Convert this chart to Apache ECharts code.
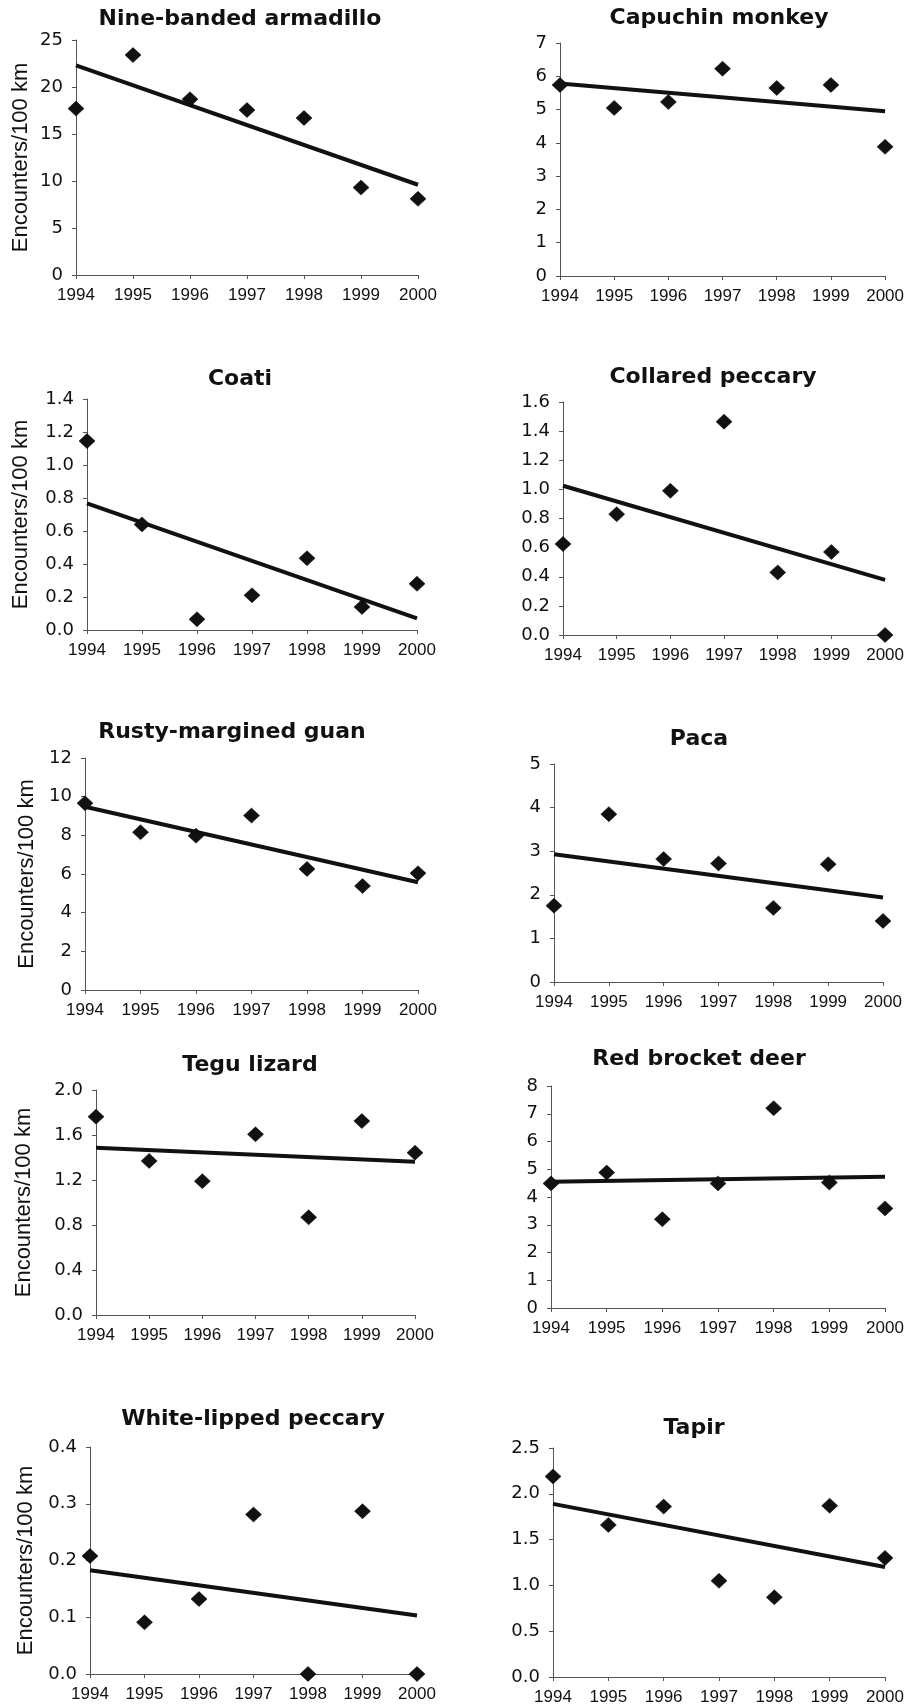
<!DOCTYPE html>
<html><head><meta charset="utf-8">
<script src="https://cdn.jsdelivr.net/npm/echarts/dist/echarts.min.js"></script>
<style>html,body{margin:0;padding:0;background:#fff}#c{width:907px;height:1708px}</style>
</head><body><div id="c"></div>
<script>
const years = [1994, 1995, 1996, 1997, 1998, 1999, 2000];
const titles = ['Nine-banded armadillo', 'Capuchin monkey', 'Coati', 'Collared peccary',
  'Rusty-margined guan', 'Paca', 'Tegu lizard', 'Red brocket deer', 'White-lipped peccary', 'Tapir'];
const yAxisName = 'Encounters/100 km';

const armadillo = [17.7, 23.4, 18.7, 17.55, 16.7, 9.3, 8.1];
const capuchin = [5.74, 5.05, 5.23, 6.23, 5.65, 5.74, 3.88];
const coati = [1.145, 0.64, 0.065, 0.21, 0.435, 0.14, 0.28];
const collaredPeccary = [0.625, 0.83, 0.99, 1.465, 0.43, 0.57, 0.0];
const guan = [9.66, 8.16, 7.98, 9.02, 6.26, 5.38, 6.04];
const paca = [1.75, 3.85, 2.82, 2.72, 1.70, 2.70, 1.40];
const tegu = [1.763, 1.37, 1.19, 1.606, 0.868, 1.724, 1.443];
const brocket = [4.49, 4.88, 3.2, 4.49, 7.2, 4.52, 3.59];
const whiteLipped = [0.208, 0.091, 0.132, 0.281, 0.0, 0.287, 0.0];
const tapir = [2.19, 1.66, 1.86, 1.05, 0.87, 1.87, 1.30];

// trend line values read at 1994 and 2000
const trendArmadillo = [22.3, 9.6];
const trendCapuchin = [5.78, 4.95];
const trendCoati = [0.768, 0.071];
const trendCollared = [1.025, 0.378];
const trendGuan = [9.48, 5.57];
const trendPaca = [2.93, 1.94];
const trendTegu = [1.487, 1.363];
const trendBrocket = [4.55, 4.73];
const trendWhiteLipped = [0.183, 0.103];
const trendTapir = [1.89, 1.20];

// y-axis scales
const yMax = [25, 7, 1.4, 1.6, 12, 5, 2.0, 8, 0.4, 2.5];
const yStep = [5, 1, 0.2, 0.2, 2, 1, 0.4, 1, 0.1, 0.5];
const yDecimals = [0, 0, 1, 1, 0, 0, 1, 0, 1, 1];

const seriesData = [armadillo, capuchin, coati, collaredPeccary, guan, paca, tegu, brocket, whiteLipped, tapir];
const trendData = [trendArmadillo, trendCapuchin, trendCoati, trendCollared, trendGuan, trendPaca, trendTegu, trendBrocket, trendWhiteLipped, trendTapir];

// layout (pixels)
const grids = [
  {left: 76, top: 40, width: 342, height: 235},
  {left: 560, top: 43, width: 326, height: 233},
  {left: 87, top: 399, width: 330, height: 231},
  {left: 563, top: 402, width: 323, height: 233},
  {left: 85, top: 758, width: 333, height: 232},
  {left: 554, top: 764, width: 329, height: 218},
  {left: 96, top: 1090, width: 319, height: 225},
  {left: 551, top: 1086, width: 334, height: 222},
  {left: 90, top: 1447, width: 327, height: 227},
  {left: 553, top: 1448, width: 332, height: 229}
];
const titlePos = [[240, 19], [719, 18], [240, 379], [713, 377], [232, 732], [699, 739], [250, 1065], [699, 1059], [253, 1419], [694, 1428]];
const nameX = [21, null, 21, null, 27, null, 24, null, 26, null];

const ink = '#111';
const axisColor = '#555';

const graphics = titles.map((t, i) => ({
  type: 'text', x: titlePos[i][0], y: titlePos[i][1], z: 10,
  style: {text: t, align: 'center', verticalAlign: 'middle',
    fontSize: 22, fontWeight: 'bold', fontFamily: 'DejaVu Sans', fill: ink}
}));
grids.forEach((g, i) => {
  if (nameX[i] === null) return;
  graphics.push({
    type: 'text', x: nameX[i], y: g.top + g.height / 2, rotation: Math.PI / 2, z: 10,
    style: {text: yAxisName, align: 'center', verticalAlign: 'middle',
      fontSize: 22, fontFamily: 'Liberation Sans', fill: ink}
  });
});

const option = {
  animation: false,
  backgroundColor: '#fff',
  grid: grids.map(g => Object.assign({containLabel: false}, g)),
  xAxis: grids.map((g, i) => ({
    gridIndex: i, type: 'value', min: years[0], max: years[years.length - 1], interval: 1,
    axisLine: {show: true, onZero: false, lineStyle: {color: axisColor, width: 1}},
    axisTick: {show: true, inside: false, length: 4, lineStyle: {color: axisColor}},
    splitLine: {show: false},
    axisLabel: {margin: 12, color: ink, fontFamily: 'Liberation Sans', fontSize: 17,
      formatter: v => String(v), showMinLabel: true, showMaxLabel: true}
  })),
  yAxis: grids.map((g, i) => ({
    gridIndex: i, type: 'value', min: 0, max: yMax[i], interval: yStep[i],
    axisLine: {show: true, onZero: false, lineStyle: {color: axisColor, width: 1}},
    axisTick: {show: true, inside: false, length: 4, lineStyle: {color: axisColor}},
    splitLine: {show: false},
    axisLabel: {margin: 13, color: ink, fontFamily: 'DejaVu Sans', fontSize: 18,
      formatter: v => v.toFixed(yDecimals[i])}
  })),
  graphic: graphics,
  series: [].concat(
    trendData.map((tr, i) => ({
      type: 'line', xAxisIndex: i, yAxisIndex: i, symbol: 'none', silent: true, z: 3,
      data: [[years[0], tr[0]], [years[years.length - 1], tr[1]]],
      lineStyle: {color: ink, width: 4}
    })),
    seriesData.map((d, i) => ({
      type: 'scatter', xAxisIndex: i, yAxisIndex: i, symbol: 'diamond', symbolSize: [16, 15], z: 4,
      data: d.map((v, k) => [years[k], v]),
      itemStyle: {color: ink, opacity: 1, borderColor: '#000', borderWidth: 0.5}
    }))
  )
};

const chart = echarts.init(document.getElementById('c'), null, {renderer: 'canvas', width: 907, height: 1708});
chart.setOption(option);
</script>
</body></html>
